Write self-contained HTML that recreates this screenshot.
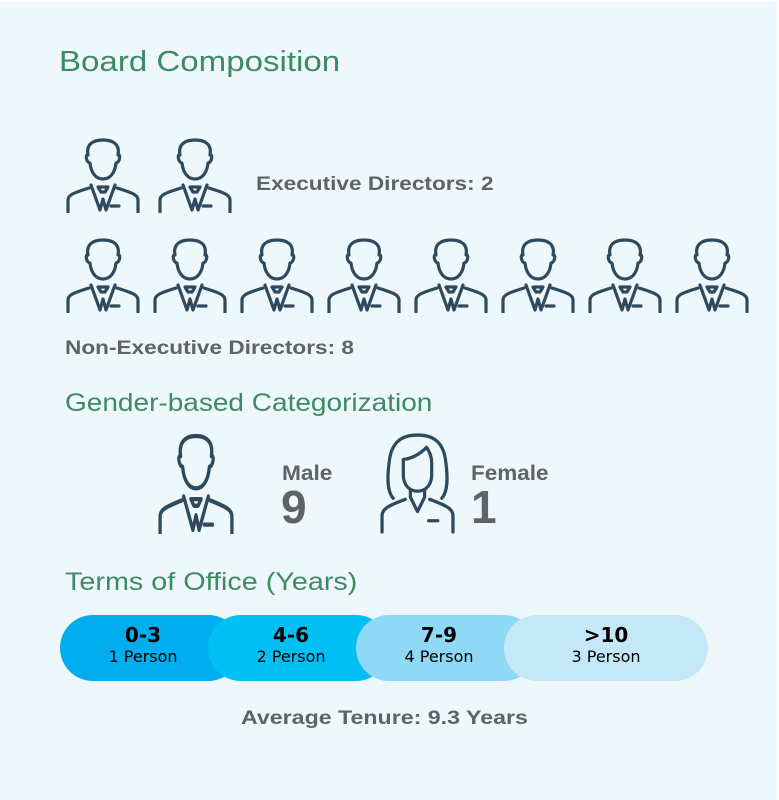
<!DOCTYPE html>
<html><head><meta charset="utf-8"><style>
html,body{margin:0;padding:0;background:#fff}
#wrap{position:absolute;left:0;top:2px;width:777px;height:798px;background:#eef7fc;font-family:"Liberation Sans",sans-serif}
.t{position:absolute;white-space:nowrap;transform-origin:0 0}
.h{color:#3d8a63}
.g{color:#5f6266;font-weight:bold}
svg.icon{position:absolute;overflow:visible}
</style></head><body>
<div id="wrap">
<svg width="0" height="0" style="position:absolute">
<defs>
<symbol id="male" viewBox="0 0 76 76">
<g fill="none" stroke="#2f4a5e" stroke-width="3.2" stroke-linecap="round" stroke-linejoin="round">
<path d="M25 26 C21 25 20 17 23 18 C21 8 27 3 38 3 C49 3 55 8 53 18 C56 17 55 25 51 26 C50 36 45 42 38 42 C31 42 26 36 25 26 Z"/>
<path d="M3 75 L3 63 C3 58 8 56 24 51 M73 75 L73 63 C73 58 68 56 52 51"/>
<path d="M26 48 L35 73 L38 62 L41 73 L50 48"/>
<path d="M33 50 L43 50 L40 55 L36 55 Z"/>
<path d="M46 69 L54 69"/>
</g></symbol>
<symbol id="female" viewBox="0 0 76 100">
<g fill="none" stroke="#2f4a5e" stroke-width="3.2" stroke-linecap="round" stroke-linejoin="round">
<path d="M14 65 C8 58 8 45 10 30 C12 10 22 3 38 3 C54 3 64 10 66 30 C68 45 68 58 62 65"/>
<path d="M24 27 C32 26 40 22 47 15 C50 20 52 24 52 30 L52 42 C52 52 46 58 38 58 C30 58 24 52 24 42 Z"/>
<path d="M31 57 L31 64 L38 78 L45 64 L45 57"/>
<path d="M3 98 L3 82 C3 75 10 72 26 66 M73 98 L73 82 C73 75 66 72 50 66"/>
<path d="M49 87 L58 87"/>
</g></symbol>
</defs></svg>

<div class="t h" style="left:59px;top:44px;font-size:29px;transform:scaleX(1.14)">Board Composition</div>

<div id="exec"></div>
<div class="t g" style="left:256px;top:172px;font-size:19px;transform:scaleX(1.19)">Executive Directors: 2</div>
<div id="nonexec"></div>
<div class="t g" style="left:65px;top:336px;font-size:19px;transform:scaleX(1.19)">Non-Executive Directors: 8</div>

<div class="t h" style="left:65px;top:387px;font-size:25px;transform:scaleX(1.12)">Gender-based Categorization</div>
<svg class="icon" style="left:157px;top:430px" width="78" height="102" viewBox="0 0 76 76" preserveAspectRatio="none"><use href="#male"/></svg>
<div class="t g" style="left:282px;top:460px;font-size:21px;transform:scaleX(1.08)">Male</div>
<div class="t" style="left:281px;top:478px;font-size:46px;color:#5f6266;font-weight:bold">9</div>
<svg class="icon" style="left:379px;top:430px" width="77" height="102" viewBox="0 0 76 100" preserveAspectRatio="none"><use href="#female"/></svg>
<div class="t g" style="left:471px;top:460px;font-size:21px;transform:scaleX(1.07)">Female</div>
<div class="t" style="left:471px;top:478px;font-size:46px;color:#5f6266;font-weight:bold">1</div>

<div class="t h" style="left:65px;top:566px;font-size:25px;transform:scaleX(1.15)">Terms of Office (Years)</div>
<div id="bar"></div>
<div class="t g" style="left:241px;top:706px;font-size:19px;transform:scaleX(1.22)">Average Tenure: 9.3 Years</div>
</div>
<script>
const categories=["0-3","4-6","7-9",">10"];
const counts=[1,2,4,3];
const colors=["#00aeef","#00c0f3","#8fd8f6","#c5e8f9"];
const execCount=2;
const nonExecCount=8;

function icons(id,n,x0,y0,step){
  const c=document.getElementById(id);
  for(let i=0;i<n;i++){
    const s=document.createElementNS("http://www.w3.org/2000/svg","svg");
    s.setAttribute("class","icon");s.setAttribute("width","76");s.setAttribute("height","76");
    s.setAttribute("viewBox","0 0 76 76");
    s.style.left=(x0+i*step)+"px";s.style.top=y0+"px";
    
    
    const u=document.createElementNS("http://www.w3.org/2000/svg","use");
    u.setAttribute("href","#male");s.appendChild(u);c.appendChild(s);
  }
}
icons("exec",execCount,65,135,92);
icons("nonexec",nonExecCount,65,235,87);

const bar=document.getElementById("bar");
const bx=60,bw=648,by=613,bh=66,r=33;
const step=(bw-56)/categories.length;
categories.forEach((c,i)=>{
  const last=i===categories.length-1;
  const x=bx+i*step;
  const w=last?(bx+bw-x):(step+r);
  const d=document.createElement("div");
  
  
  d.style.cssText=`position:absolute;left:${x}px;top:${by}px;width:${w}px;height:${bh}px;border-radius:${r}px;background:${colors[i]};font-family:"DejaVu Sans","Liberation Sans",sans-serif;color:#000;text-align:center`;
  const inner=document.createElement("div");
  inner.style.cssText=`position:absolute;left:0;width:${last?w:step+18}px;top:9px`;
  inner.innerHTML=`<div style="font-size:20px;font-weight:bold;line-height:23px">${c.replace('>','&gt;')}</div><div style="font-size:16px;line-height:19px">${counts[i]} Person</div>`;
  d.appendChild(inner);
  bar.appendChild(d);
});
</script>
</body></html>
